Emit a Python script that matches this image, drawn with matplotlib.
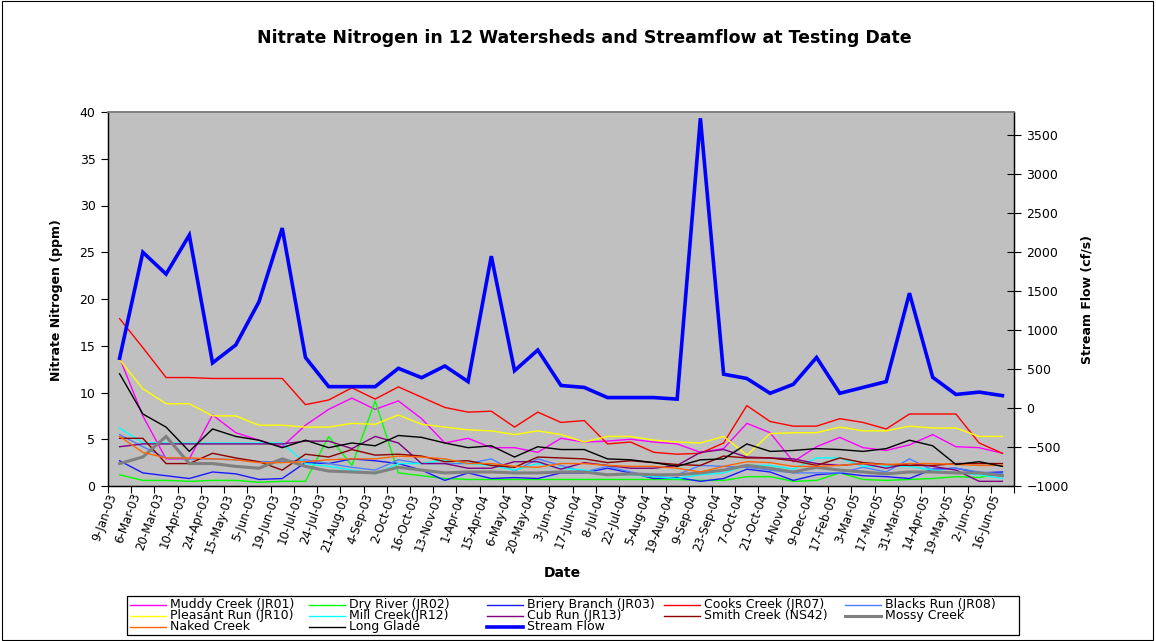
import matplotlib
matplotlib.use("Agg")
import matplotlib.pyplot as plt
from matplotlib.lines import Line2D
from matplotlib.patches import Rectangle

plt.rcParams['font.family'] = ['DejaVu Sans']

# Sampling dates (category axis)
dates = ["9-Jan-03", "6-Mar-03", "20-Mar-03", "10-Apr-03", "24-Apr-03", "15-May-03",
         "5-Jun-03", "19-Jun-03", "10-Jul-03", "24-Jul-03", "21-Aug-03", "4-Sep-03",
         "2-Oct-03", "16-Oct-03", "13-Nov-03", "1-Apr-04", "15-Apr-04", "6-May-04",
         "20-May-04", "3-Jun-04", "17-Jun-04", "8-Jul-04", "22-Jul-04", "5-Aug-04",
         "19-Aug-04", "9-Sep-04", "23-Sep-04", "7-Oct-04", "21-Oct-04", "4-Nov-04",
         "9-Dec-04", "17-Feb-05", "3-Mar-05", "17-Mar-05", "31-Mar-05", "14-Apr-05",
         "19-May-05", "2-Jun-05", "16-Jun-05"]

# Nitrate nitrogen (ppm) per watershed
muddy = [13.7, 7.5, 2.9, 2.9, 7.6, 5.7, 4.9, 4.2, 6.5, 8.2, 9.4, 8.2, 9.1, 7.2, 4.6,
         5.1, 4.1, 4.1, 3.6, 5.1, 4.7, 4.8, 5.0, 4.7, 4.5, 3.6, 4.0, 6.7, 5.7,
         2.6, 4.2, 5.2, 4.1, 3.8, 4.4, 5.5, 4.2, 4.1, 3.5]
dry = [1.2, 0.6, 0.6, 0.5, 0.6, 0.6, 0.4, 0.5, 0.5, 5.3, 2.2, 9.1, 1.4, 1.1, 0.8,
       0.7, 0.7, 0.7, 0.7, 0.7, 0.7, 0.7, 0.7, 0.7, 0.7, 0.6, 0.6, 1.0, 1.0,
       0.5, 0.6, 1.4, 0.7, 0.6, 0.7, 0.8, 1.0, 0.9, 1.4]
briery = [2.7, 1.4, 1.1, 0.8, 1.5, 1.3, 0.7, 0.8, 2.5, 2.4, 2.9, 2.7, 2.4, 1.7, 0.6,
          1.4, 0.8, 0.9, 0.8, 1.4, 1.4, 1.9, 1.4, 0.8, 0.9, 0.5, 0.8, 1.8, 1.5,
          0.6, 1.2, 1.4, 1.1, 1.0, 0.8, 1.8, 1.9, 1.4, 1.5]
cooks = [17.9, 14.8, 11.6, 11.6, 11.5, 11.5, 11.5, 11.5, 8.7, 9.2, 10.5, 9.3, 10.6, 9.5, 8.4,
         7.9, 8.0, 6.3, 7.9, 6.8, 7.0, 4.5, 4.7, 3.6, 3.4, 3.5, 4.6, 8.6, 6.9,
         6.4, 6.4, 7.2, 6.8, 6.1, 7.7, 7.7, 7.7, 4.6, 3.5]
blacks = [5.5, 4.2, 3.0, 2.9, 2.9, 2.8, 2.6, 2.6, 2.8, 2.4, 2.0, 1.7, 2.8, 2.4, 2.4,
          2.4, 2.9, 1.6, 2.9, 2.2, 1.5, 2.1, 1.5, 1.0, 1.2, 2.2, 2.1, 2.0, 1.7,
          1.4, 1.4, 1.4, 2.0, 1.5, 2.9, 1.7, 1.9, 1.5, 1.3]
pleasant = [13.5, 10.4, 8.8, 8.8, 7.5, 7.5, 6.5, 6.5, 6.3, 6.3, 6.7, 6.6, 7.6, 6.6, 6.3,
            6.0, 5.9, 5.5, 5.9, 5.5, 4.7, 5.3, 5.3, 4.9, 4.7, 4.6, 5.3, 3.3, 5.6,
            5.7, 5.7, 6.3, 5.9, 5.9, 6.4, 6.2, 6.2, 5.3, 5.3]
mill = [6.2, 4.6, 4.6, 4.6, 4.6, 4.6, 4.6, 4.6, 2.4, 2.1, 1.7, 1.3, 2.4, 2.4, 2.8,
        2.4, 2.2, 1.7, 2.4, 1.9, 1.7, 1.2, 1.2, 1.0, 0.8, 1.2, 1.4, 2.2, 2.2,
        1.8, 3.0, 3.0, 2.1, 2.1, 2.1, 1.7, 1.4, 1.2, 0.8]
cub = [4.2, 4.5, 4.5, 4.5, 4.5, 4.5, 4.5, 4.5, 4.8, 4.8, 4.0, 5.3, 4.6, 2.4, 2.4,
       1.9, 1.9, 2.6, 2.6, 1.8, 2.5, 2.2, 1.9, 1.9, 2.2, 3.6, 3.9, 3.1, 3.0,
       2.9, 2.4, 2.2, 2.4, 1.9, 2.4, 2.1, 1.7, 0.5, 0.5]
smith = [5.1, 5.1, 2.4, 2.4, 3.5, 3.0, 2.6, 1.7, 3.4, 3.1, 3.9, 3.3, 3.4, 3.2, 2.6,
         2.7, 2.2, 2.0, 3.1, 3.0, 2.9, 2.5, 2.7, 2.5, 2.3, 2.2, 3.2, 3.0, 3.0,
         2.7, 2.2, 3.0, 2.5, 2.3, 2.2, 2.2, 2.4, 2.4, 2.4]
mossy = [2.4, 3.1, 5.3, 2.4, 2.4, 2.1, 1.9, 2.9, 2.1, 1.6, 1.5, 1.4, 2.0, 1.7, 1.4,
         1.5, 1.5, 1.4, 1.4, 1.5, 1.5, 1.2, 1.3, 1.2, 1.2, 1.4, 1.7, 2.2, 1.9,
         1.5, 2.0, 1.7, 1.5, 1.3, 1.5, 1.5, 1.4, 1.4, 1.1]
naked = [5.3, 3.6, 3.0, 3.0, 2.9, 2.8, 2.5, 2.5, 2.6, 2.8, 2.9, 2.9, 3.2, 3.1, 2.9,
         2.4, 2.4, 2.1, 2.0, 2.4, 2.4, 2.2, 2.1, 2.1, 1.9, 1.5, 2.1, 2.6, 2.5,
         2.1, 2.1, 2.2, 2.4, 2.3, 2.4, 2.4, 2.3, 2.2, 2.2]
glade = [12.0, 7.7, 6.3, 3.7, 6.1, 5.3, 4.9, 4.1, 4.9, 4.1, 4.6, 4.3, 5.4, 5.2, 4.6,
         4.1, 4.3, 3.1, 4.2, 3.9, 3.9, 2.9, 2.8, 2.5, 2.1, 2.8, 2.9, 4.5, 3.7,
         3.8, 4.0, 3.9, 3.7, 4.0, 4.9, 4.3, 2.3, 2.6, 2.1]

# Stream flow (cf/s), secondary axis
flow = [640, 2000, 1720, 2220, 580, 810, 1365, 2310, 650, 275, 275, 275, 510, 390, 540,
        340, 1950, 480, 745, 290, 265, 135, 135, 135, 115, 3720, 435, 380, 190,
        305, 650, 190, 265, 340, 1475, 395, 175, 205, 160]

series = [
    ("Muddy Creek (JR01)", muddy, "#FF00FF", 1.0),
    ("Dry River (JR02)", dry, "#00FF00", 1.0),
    ("Briery Branch (JR03)", briery, "#1A1AFF", 1.0),
    ("Cooks Creek (JR07)", cooks, "#FF0000", 1.0),
    ("Blacks Run (JR08)", blacks, "#4D7FFF", 1.0),
    ("Pleasant Run (JR10)", pleasant, "#FFFF00", 1.0),
    ("Mill Creek(JR12)", mill, "#00FFFF", 1.0),
    ("Cub Run (JR13)", cub, "#800080", 1.0),
    ("Smith Creek (NS42)", smith, "#8B0000", 1.0),
    ("Mossy Creek", mossy, "#808080", 2.2),
    ("Naked Creek", naked, "#FF6600", 1.0),
    ("Long Glade", glade, "#000000", 1.0),
]

W, H = 1156, 641
fig = plt.figure(figsize=(W / 100, H / 100), dpi=100)
fig.patch.set_facecolor("white")

left, right, top, bottom = 108, 1014, 112, 486
ax = fig.add_axes([left / W, 1 - bottom / H, (right - left) / W, (bottom - top) / H])
ax.set_facecolor("#C0C0C0")

x = list(range(len(dates)))
handles = []
for name, vals, color, lw in series:
    ln, = ax.plot(x, vals, color=color, lw=lw, label=name, solid_joinstyle="miter")
    handles.append(ln)

ax.set_xlim(-0.5, len(dates) - 0.5)
ax.set_ylim(0, 40)
ax.set_yticks(range(0, 41, 5))

ax2 = ax.twinx()
fl, = ax2.plot(x, flow, color="#0000FF", lw=2.6, label="Stream Flow", solid_joinstyle="miter")
handles.append(fl)
ax2.set_ylim(-1000, 3800)
ax2.set_yticks(range(-1000, 3501, 500))

# Category boundaries carry the tick marks, centres carry the labels
ax.set_xticks([i - 0.5 for i in range(len(dates) + 1)])
ax.set_xticklabels([])
ax.set_xticks(x, minor=True)
ax.set_xticklabels(dates, minor=True, rotation=70, ha="right", va="top", fontsize=8.5)
ax.tick_params(axis="x", which="major", direction="out", length=5, width=0.8)
ax.tick_params(axis="x", which="minor", length=0, pad=4)
ax.tick_params(axis="y", direction="out", length=5, width=0.8, labelsize=9, pad=4)
ax2.tick_params(axis="y", direction="inout", length=10, width=0.8, labelsize=9, pad=4)

for a in (ax, ax2):
    a.spines["top"].set_color("#808080")
    a.spines["top"].set_linewidth(1.2)
    for s in ("left", "right", "bottom"):
        a.spines[s].set_color("black")
        a.spines[s].set_linewidth(0.9)

fig.text(584 / W, 1 - 38 / H, "Nitrate Nitrogen in 12 Watersheds and Streamflow at Testing Date",
         ha="center", va="center", fontsize=12.5, fontweight="bold")
fig.text(57 / W, 1 - 300 / H, "Nitrate Nitrogen (ppm)", rotation=90, ha="center", va="center",
         fontsize=9, fontweight="bold")
fig.text(1087 / W, 1 - 299 / H, "Stream Flow (cf/s)", rotation=90, ha="center", va="center",
         fontsize=9, fontweight="bold")
fig.text(562 / W, 1 - 573 / H, "Date", ha="center", va="center", fontsize=10, fontweight="bold")

# Legend laid out row by row in five columns
lx0, lx1, ly0, ly1 = 127, 1019, 596, 635
lax = fig.add_axes([0, 0, 1, 1], facecolor="none")
lax.set_xlim(0, W)
lax.set_ylim(H, 0)
lax.axis("off")
lax.add_patch(Rectangle((lx0, ly0), lx1 - lx0, ly1 - ly0, fill=False, ec="black", lw=0.9))
col_x = [130, 309, 487, 664, 845]
row_y = [604.5, 615.5, 626.5]
for k, h in enumerate(handles):
    r, c = divmod(k, 5)
    xs = col_x[c]
    lax.add_line(Line2D([xs, xs + 36], [row_y[r], row_y[r]], color=h.get_color(),
                        lw=h.get_linewidth()))
    lax.text(xs + 40, row_y[r], h.get_label(), ha="left", va="center", fontsize=9)

# Outer chart frame
lax.add_patch(Rectangle((2, 1), W - 5, H - 2, fill=False, ec="black", lw=0.8))

fig.savefig("out.png", dpi=100)
